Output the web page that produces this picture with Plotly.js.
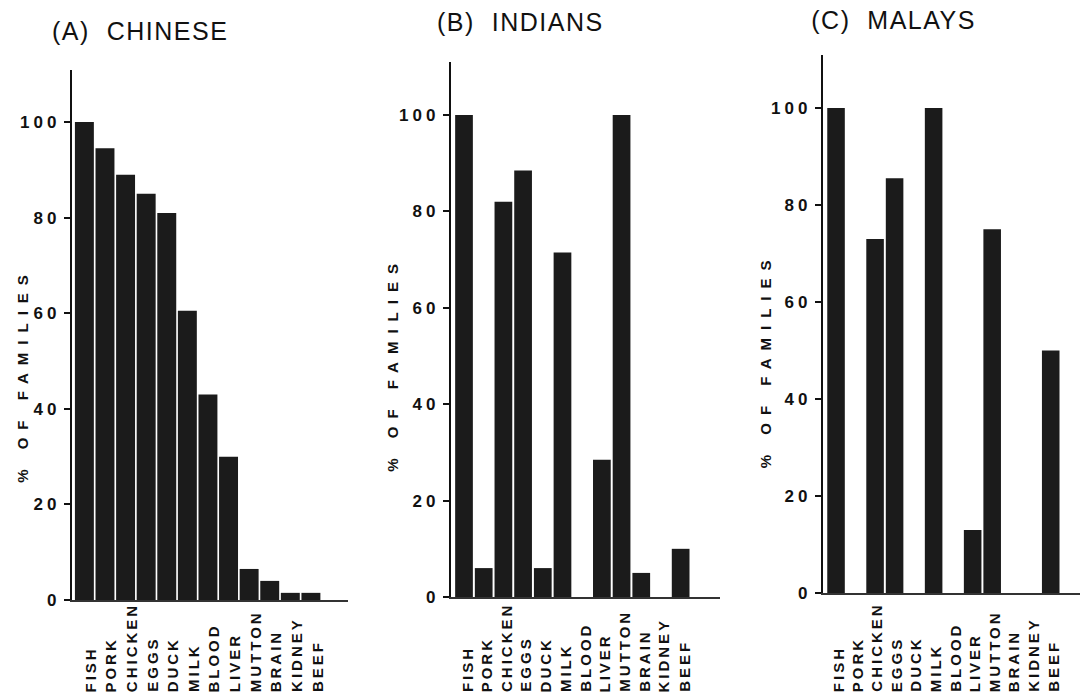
<!DOCTYPE html>
<html>
<head>
<meta charset="utf-8">
<script src="https://cdn.plot.ly/plotly-3.0.1.min.js"></script>
<style>
  html, body { margin: 0; padding: 0; background: #ffffff; }
  #chart { width: 1080px; height: 699px; }
  .annotation-text { letter-spacing: 3px; }
  g.annotation[data-index="0"] .annotation-text,
  g.annotation[data-index="1"] .annotation-text,
  g.annotation[data-index="2"] .annotation-text { letter-spacing: 1.5px; }
  g.annotation[data-index="3"] .annotation-text,
  g.annotation[data-index="4"] .annotation-text,
  g.annotation[data-index="5"] .annotation-text { letter-spacing: 8px; }
  .ytick text, .y2tick text, .y3tick text { letter-spacing: 4px; }
</style>
</head>
<body>
<div id="chart"></div>
<script>
// ---- data ----
const categories = ['FISH', 'PORK', 'CHICKEN', 'EGGS', 'DUCK', 'MILK', 'BLOOD', 'LIVER', 'MUTTON', 'BRAIN', 'KIDNEY', 'BEEF'];
const chinese = [100, 94.5, 89, 85, 81, 60.5, 43, 30, 6.5, 4, 1.5, 1.5];
const indians = [100, 6, 82, 88.5, 6, 71.5, 0, 28.5, 100, 5, 0, 10];
const malays  = [100, 0, 73, 85.5, 0, 100, 0, 13, 75, 0, 0, 50];
const panelTitles = ['(A)\u00a0 CHINESE', '(B)\u00a0 INDIANS', '(C)\u00a0 MALAYS'];
const yTickValues = [0, 20, 40, 60, 80, 100];
const yTitle = '% OF FAMILIES';

const barColor = '#1b1b1b';
const series = [chinese, indians, malays];
const widths = [0.92, 0.9, 0.9];

const traces = series.map((vals, i) => ({
  type: 'bar',
  x: categories,
  y: vals,
  xaxis: i === 0 ? 'x' : 'x' + (i + 1),
  yaxis: i === 0 ? 'y' : 'y' + (i + 1),
  width: widths[i],
  marker: { color: barColor, line: { width: 0 } },
  showlegend: false,
  hoverinfo: 'x+y'
}));

const font = { family: '"Liberation Sans", Arial, sans-serif', color: '#111' };

function xAxis(domain, range, anchor) {
  return {
    domain: domain, range: range, anchor: anchor, type: 'category',
    showline: true, linecolor: '#333', linewidth: 1.5,
    showticklabels: false, ticks: '', showgrid: false, zeroline: false,
    fixedrange: true
  };
}
function yAxis(domain, range, anchor) {
  return {
    domain: domain, range: range, anchor: anchor,
    showline: true, linecolor: '#111', linewidth: 2.2,
    tickvals: yTickValues, ticks: 'outside', ticklen: 6, tickwidth: 2, tickcolor: '#111',
    tickfont: { family: font.family, size: 17, color: '#111', weight: 'bold' },
    showgrid: false, zeroline: false, fixedrange: true
  };
}

const annotations = [];
// panel titles (indices 0-2)
const titleX = [0.130, 0.482, 0.827];
const titleY = [0.955, 0.968, 0.972];
panelTitles.forEach((t, i) => {
  annotations.push({
    text: t, xref: 'paper', yref: 'paper', x: titleX[i], y: titleY[i],
    xanchor: 'center', yanchor: 'middle', showarrow: false,
    font: { family: font.family, size: 25, color: '#111' }
  });
});
// y-axis titles (indices 3-5)
const yTitleX = [0.021, 0.363, 0.709];
const yTitleY = [0.464, 0.479, 0.485];
yTitleX.forEach((xp, i) => {
  annotations.push({
    text: yTitle, xref: 'paper', yref: 'paper', x: xp, y: yTitleY[i],
    xanchor: 'center', yanchor: 'middle', textangle: -90, showarrow: false,
    font: { family: font.family, size: 15, color: '#111', weight: 'bold' }
  });
});
// category labels under each panel
const axisRefs = ['x', 'x2', 'x3'];
const labelShift = [6, 3, 2];
axisRefs.forEach((ax, p) => {
  categories.forEach((c, i) => {
    annotations.push({
      text: c, xref: ax, yref: 'paper', x: i, y: 0.007,
      xanchor: 'center', yanchor: 'bottom', textangle: -90, showarrow: false,
      xshift: labelShift[p],
      font: { family: font.family, size: 15, color: '#111', weight: 'bold' }
    });
  });
});

const layout = {
  width: 1080, height: 699,
  margin: { l: 0, r: 0, t: 0, b: 0 },
  paper_bgcolor: '#ffffff', plot_bgcolor: '#ffffff',
  font: font,
  showlegend: false,
  xaxis:  xAxis([0.0667, 0.3222], [-0.6, 12.8], 'y'),
  xaxis2: xAxis([0.4176, 0.6667], [-0.66, 13.0], 'y2'),
  xaxis3: xAxis([0.7620, 1.0], [-0.67, 12.5], 'y3'),
  yaxis:  yAxis([0.1416, 0.8999], [0, 110.9], 'x'),
  yaxis2: yAxis([0.1459, 0.9113], [0, 111], 'x2'),
  yaxis3: yAxis([0.1516, 0.9213], [0, 110.9], 'x3'),
  annotations: annotations
};

Plotly.newPlot('chart', traces, layout, { staticPlot: true, displayModeBar: false });
</script>
</body>
</html>
